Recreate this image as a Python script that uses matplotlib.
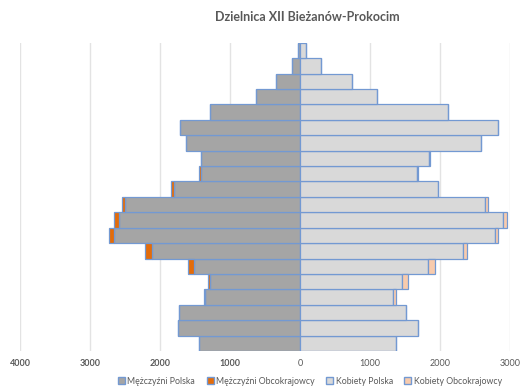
import numpy as np
import matplotlib.pyplot as plt
from matplotlib.patches import Patch

# age groups, bottom (0-4) to top (95+)
ages = ["0-4", "5-9", "10-14", "15-19", "20-24", "25-29", "30-34", "35-39", "40-44",
        "45-49", "50-54", "55-59", "60-64", "65-69", "70-74", "75-79", "80-84",
        "85-89", "90-94", "95+"]
men_pl = [1443, 1738, 1729, 1352, 1286, 1519, 2119, 2652, 2586, 2500,
          1805, 1414, 1414, 1629, 1710, 1281, 629, 348, 119, 24]
men_obc = [0, 0, 0, 20, 24, 86, 90, 76, 67, 38,
           33, 24, 0, 0, 0, 0, 0, 0, 0, 0]
women_pl = [1367, 1681, 1514, 1333, 1452, 1833, 2333, 2786, 2905, 2643,
            1967, 1671, 1843, 2581, 2824, 2110, 1105, 743, 300, 86]
women_obc = [0, 0, 0, 33, 86, 95, 57, 48, 48, 48,
             10, 10, 10, 5, 0, 0, 0, 0, 0, 0]
xticks = [-4000, -3000, -2000, -1000, 0, 1000, 2000, 3000]

plt.rcParams['font.family'] = ['Lato', 'DejaVu Sans']

c_mpl = '#a5a5a5'
c_mob = '#e36c0a'
c_kpl = '#d9d9d9'
c_kob = '#f8cbad'
edge = '#7399d2'
txt = '#595959'

fig = plt.figure(figsize=(5.22, 3.89), dpi=100)
ax = fig.add_axes([20 / 522, 1 - 351 / 389, 490 / 522, (351 - 42.7) / 389])

y = np.arange(len(ages))
mp = np.array(men_pl)
mo = np.array(men_obc)
wp = np.array(women_pl)
wo = np.array(women_obc)

ax.barh(y, -mp, height=1.0, color=c_mpl, edgecolor=edge, linewidth=0.9, zorder=3)
ax.barh(y, -mo, left=-mp, height=1.0, color=c_mob, edgecolor=edge, linewidth=0.9, zorder=3)
ax.barh(y, wp, height=1.0, color=c_kpl, edgecolor=edge, linewidth=0.9, zorder=3)
ax.barh(y, wo, left=wp, height=1.0, color=c_kob, edgecolor=edge, linewidth=0.9, zorder=3)

ax.set_xlim(-4000, 3000)
ax.set_ylim(-0.5, len(ages) - 0.5)
ax.set_xticks(xticks)
ax.set_xticklabels([str(abs(t)) for t in xticks])
for lab, t in zip(ax.get_xticklabels(), xticks):
    # left side labels look heavier in the original
    lab.set_fontweight('bold' if t < 0 else 'normal')
ax.tick_params(axis='x', length=0, labelsize=6.5, labelcolor=txt, pad=6)
ax.set_yticks([])
ax.grid(axis='x', color='#e3e3e3', linewidth=1.0, zorder=0)
for s in ax.spines.values():
    s.set_visible(False)

fig.text(307 / 522, 1 - 17 / 389, "Dzielnica XII Bieżanów-Prokocim", ha='center', va='center',
         fontsize=9, fontweight='bold', color=txt)

handles = [Patch(facecolor=c_mpl, edgecolor=edge, label='Mężczyźni Polska'),
           Patch(facecolor=c_mob, edgecolor=edge, label='Mężczyźni Obcokrajowcy'),
           Patch(facecolor=c_kpl, edgecolor=edge, label='Kobiety Polska'),
           Patch(facecolor=c_kob, edgecolor=edge, label='Kobiety Obcokrajowcy')]
fig.legend(handles=handles, loc='center', bbox_to_anchor=(310 / 522, 1 - 381 / 389), ncol=4,
           frameon=False, fontsize=6.3, labelcolor=txt, handlelength=0.8, handleheight=0.8,
           handletextpad=0.3, columnspacing=1.3, borderaxespad=0)

fig.savefig('out.png', dpi=100)
